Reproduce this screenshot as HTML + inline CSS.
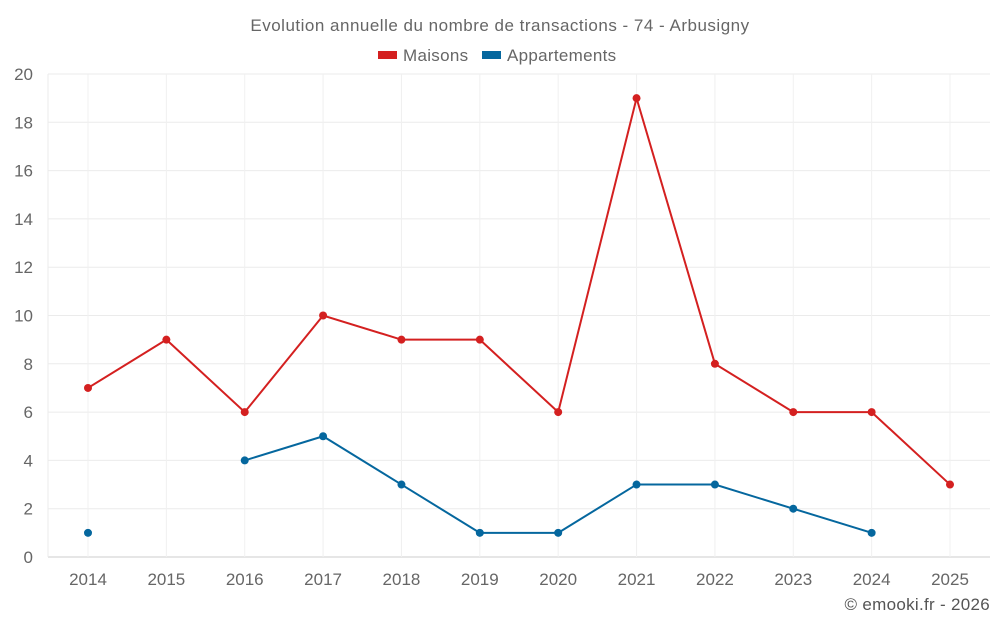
<!DOCTYPE html>
<html><head><meta charset="utf-8"><style>
body{margin:0;background:#fff;font-family:"Liberation Sans",Roboto,sans-serif;}
svg{display:block}
</style></head><body>
<svg id="chart" width="1000" height="625" font-family="Liberation Sans, sans-serif">
<text x="500" y="31" text-anchor="middle" font-size="17" letter-spacing="0.5" fill="#666">Evolution annuelle du nombre de transactions - 74 - Arbusigny</text>
<g>
<g><rect x="378" y="51" width="19" height="8" fill="#d42020"/><text x="403" y="61" font-size="17" letter-spacing="0.3" fill="#666">Maisons</text></g>
<g><rect x="482" y="51" width="19" height="8" fill="#05679e"/><text x="507" y="61" font-size="17" letter-spacing="0.3" fill="#666">Appartements</text></g>
</g>
<g id="grid"></g><g id="axes"></g><g id="series"></g>
<text x="990" y="610" text-anchor="end" font-size="17" letter-spacing="0.3" fill="#555">© emooki.fr - 2026</text>
</svg>
<script>
const years=[2014,2015,2016,2017,2018,2019,2020,2021,2022,2023,2024,2025];
const maisons=[7,9,6,10,9,9,6,19,8,6,6,3];
const appartements=[1,null,4,5,3,1,1,3,3,2,1,null];
const yTicks=[0,2,4,6,8,10,12,14,16,18,20];
const NS="http://www.w3.org/2000/svg";
const x=i=>88+i*(950-88)/(years.length-1);
const y=v=>557-v*(557-74)/20;
function el(t,a,p){const e=document.createElementNS(NS,t);for(const k in a)e.setAttribute(k,a[k]);p.appendChild(e);return e;}
const grid=document.getElementById('grid'),axes=document.getElementById('axes'),ser=document.getElementById('series');
yTicks.forEach(v=>{
 const l=el('line',{x1:48,x2:990,y1:y(v),y2:y(v),stroke:v===0?'#ccc':'#ebebeb'},grid);
 
 
 const t=el('text',{x:33,y:y(v)+6,'text-anchor':'end','font-size':17,fill:'#666'},axes);t.textContent=v;
 
 
});
el('line',{x1:48,x2:48,y1:74,y2:557,stroke:'#ebebeb'},grid);
years.forEach((yr,i)=>{
 const l=el('line',{x1:x(i),x2:x(i),y1:74,y2:557,stroke:'#f0f0f0'},grid);
 
 
 const t=el('text',{x:x(i),y:585,'text-anchor':'middle','font-size':17,fill:'#666'},axes);t.textContent=yr;
 
 
});
function draw(data,color,name){
 const g=el('g',{},ser);
 
 
 let d='',pen=false;
 data.forEach((v,i)=>{if(v==null){pen=false;return;}d+=(pen?'L':'M')+x(i)+' '+y(v)+' ';pen=true;});
 el('path',{d:d,fill:'none',stroke:color,'stroke-width':2},g);
 data.forEach((v,i)=>{if(v==null)return;
  const c=el('circle',{cx:x(i),cy:y(v),r:4,fill:color},g);
  
  
 });
}
draw(maisons,'#d42020','maisons');
draw(appartements,'#05679e','appartements');
</script>
</body></html>
